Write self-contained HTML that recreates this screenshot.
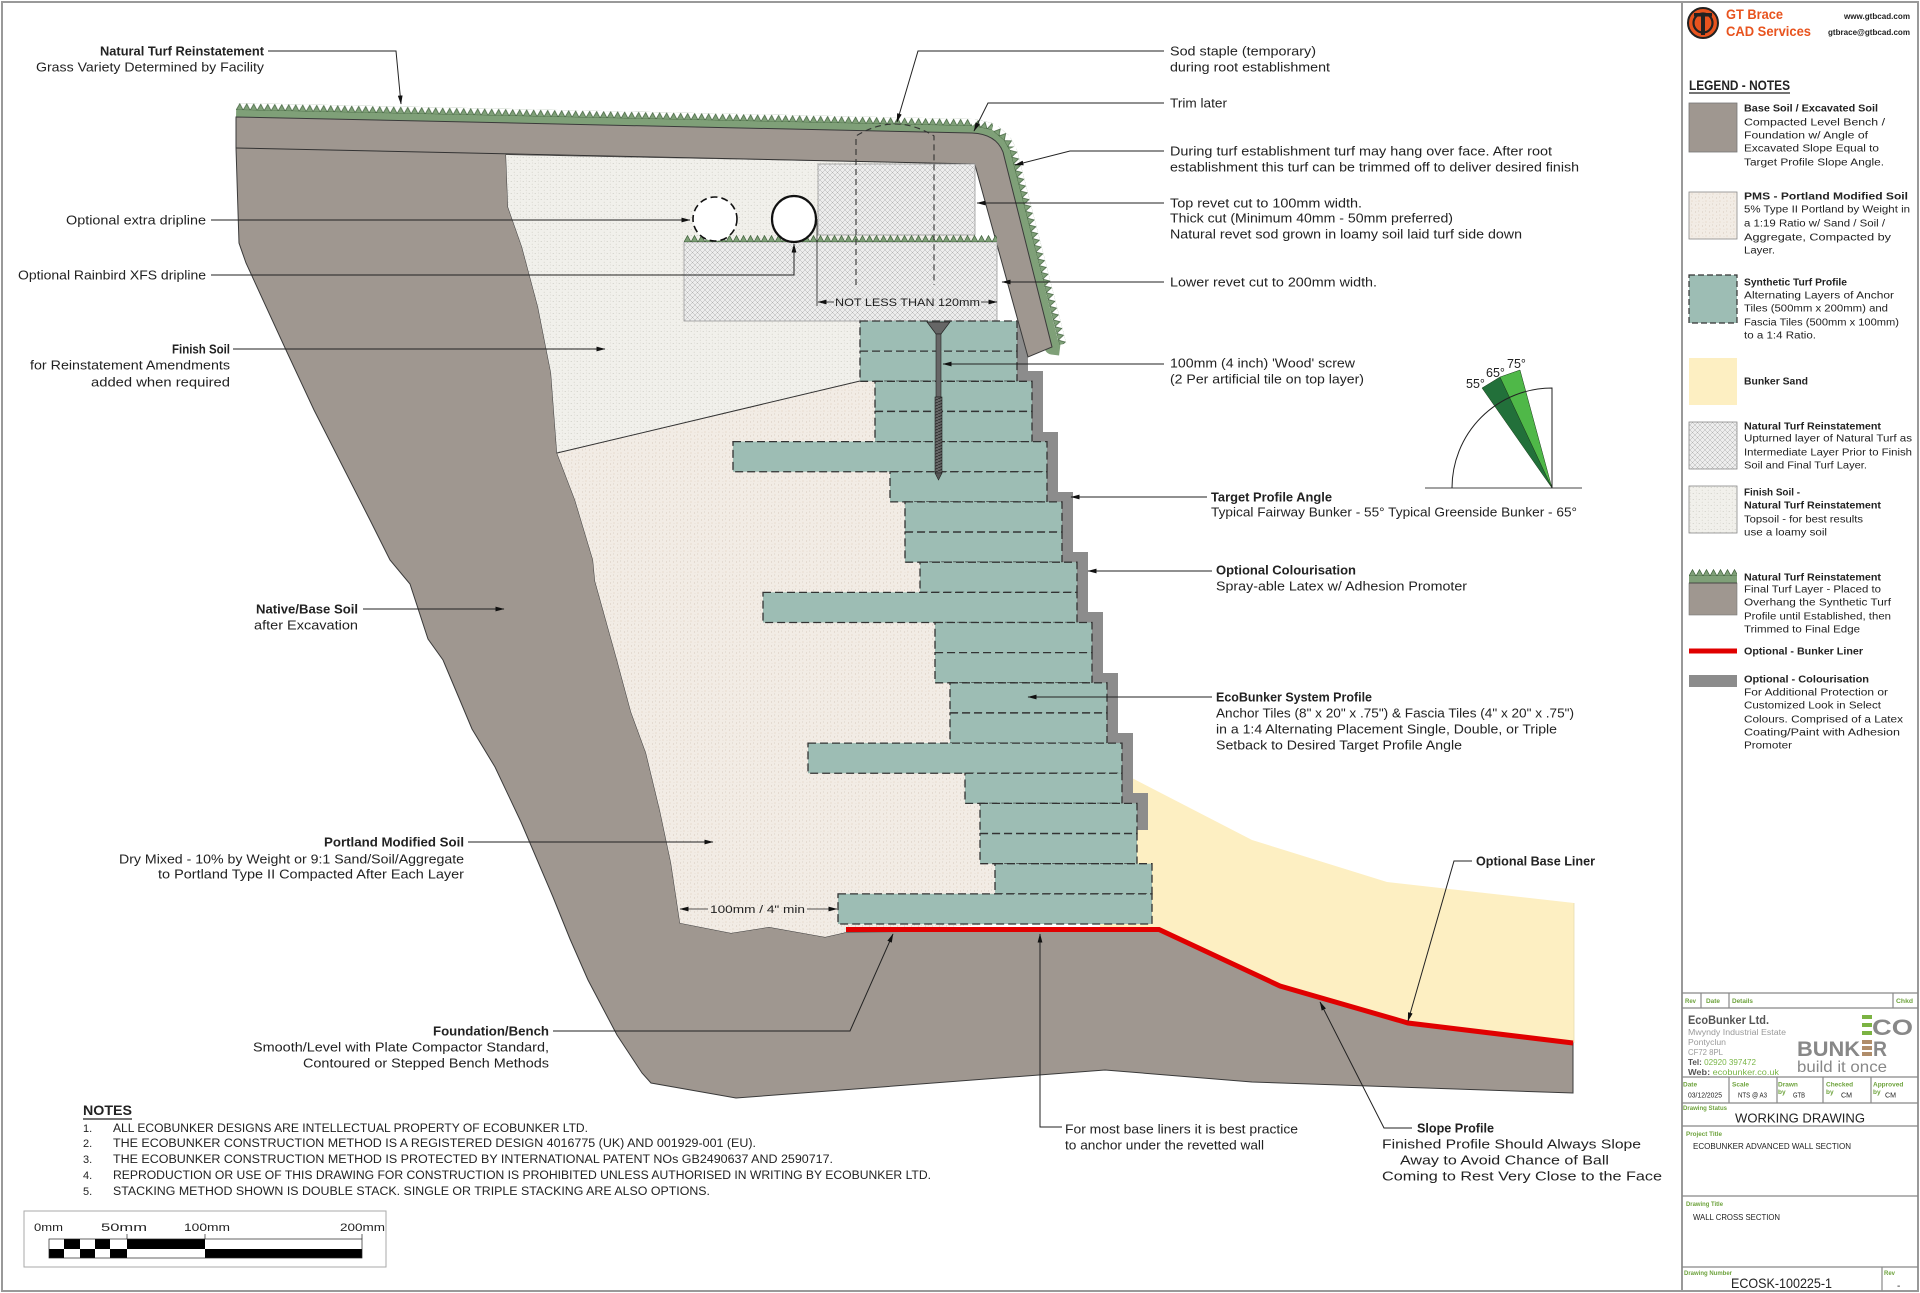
<!DOCTYPE html>
<html><head><meta charset="utf-8">
<style>
html,body{margin:0;padding:0;background:#fff;}
svg{display:block;}
text{font-family:"Liberation Sans",sans-serif;fill:#222;}
.b{font-weight:bold;}
.g{fill:#6ea33d;font-weight:bold;font-size:6.5px;}
.lg{font-size:10px;}
.lb{font-size:10px;font-weight:bold;}
.r{font-size:13px;fill:#222;}
.tb{font-size:8px;fill:#9a9a9a;}
.nt{font-size:10.5px;}
</style></head><body>
<svg width="1920" height="1293" viewBox="0 0 1920 1293" xmlns="http://www.w3.org/2000/svg">
<defs>
 <pattern id="teeth" width="7" height="7" patternUnits="userSpaceOnUse"><path d="M0,7 L3.5,0.6 L7,7 Z" fill="#7fa078" stroke="#3d5e39" stroke-width="0.7"/></pattern>
 <pattern id="xh" width="5" height="5" patternUnits="userSpaceOnUse"><rect width="5" height="5" fill="#ededed"/><path d="M0,0L5,5M5,0L0,5" stroke="#b3b3b3" stroke-width="0.5"/></pattern>
 <pattern id="pms" width="7" height="7" patternUnits="userSpaceOnUse"><rect width="7" height="7" fill="#f2ece5"/><circle cx="1.5" cy="2" r="0.6" fill="#d9cdc0"/><circle cx="5" cy="5" r="0.6" fill="#e2d2bf"/><circle cx="4.5" cy="1" r="0.45" fill="#cfc5ba"/><circle cx="2" cy="5.5" r="0.4" fill="#ddd3c8"/></pattern>
 <pattern id="fin" width="6" height="6" patternUnits="userSpaceOnUse"><rect width="6" height="6" fill="#f1f0eb"/><circle cx="1.2" cy="1.5" r="0.55" fill="#c9c8c0"/><circle cx="4.2" cy="4.3" r="0.55" fill="#d2d0c8"/><circle cx="4.5" cy="1" r="0.35" fill="#bdbcb4"/></pattern>
 <pattern id="thr" width="7" height="3" patternUnits="userSpaceOnUse"><rect width="7" height="3" fill="#666"/><path d="M0,3 L7,0" stroke="#222" stroke-width="0.8"/></pattern>
 <marker id="ar" markerWidth="9" markerHeight="6" refX="8.5" refY="3" orient="auto" markerUnits="userSpaceOnUse"><path d="M0,0.6 L9,3 L0,5.4 Z" fill="#111"/></marker>
</defs>

<!-- green underlay for turf -->
<path d="M236,117 L972,133 Q996,134 1003,152 L1052,347 L1060,348" fill="none" stroke="#7fa078" stroke-width="15" stroke-linejoin="round"/>
<g transform="translate(236,117) rotate(1.245)"><rect x="0" y="-14" width="736" height="7" fill="url(#teeth)"/></g>
<g transform="translate(972,133) rotate(12)"><rect x="0" y="-14" width="19" height="7" fill="url(#teeth)"/></g>
<g transform="translate(989,137) rotate(40)"><rect x="0" y="-14" width="14" height="7" fill="url(#teeth)"/></g>
<g transform="translate(998,144) rotate(62)"><rect x="0" y="-14" width="10" height="7" fill="url(#teeth)"/></g>
<g transform="translate(1003,152) rotate(75.7)"><rect x="0" y="-14" width="201" height="7" fill="url(#teeth)"/></g>

<!-- sand -->
<path d="M1100,777 L1130,777 L1252,840 L1387,882 L1574,903 L1574,1043 L1408,1023 L1280,986 L1159,929 L1100,929 Z" fill="#fdefc2"/>
<line x1="1574" y1="903" x2="1574" y2="1043" stroke="#e8dcb0" stroke-width="0.8"/>

<!-- colourisation -->
<path d="M1000,321 L1028,321 L1028,371 L1043,371 L1043,432 L1058,432 L1058,492 L1073,492 L1073,552 L1088,552 L1088,612 L1103,612 L1103,673 L1118,673 L1118,733 L1133,733 L1133,793 L1148,793 L1148,830 L1000,830 Z" fill="#8c8c8c"/>

<!-- main soil -->
<path d="M236,117 L972,133 Q996,134 1003,152 L1052,347 L1028,357 L975,165 L506,155 L508,207 L522,247 L538,307 L551,373 L557,453 L575,500 L593,560 L595,581 L617,660 L631,712 L646,753 L660,811 L671,863 L680,923 L731,933 L769,927 L825,937 L847,932 L1159,929 L1280,986 L1408,1023 L1573,1043 L1573,1093 L1252,1082 L1105,1070 L736,1098 L651,1083 L642,1073 L617,1035 L588,980 L570,939 L553,897 L521,822 L495,767 L472,729 L459,698 L443,660 L428,639 L410,584 L390,560 L370,520 L314,410 L286,350 L246,263 L239,243 L236,148 Z" fill="#9f9790" stroke="#3a3a3a" stroke-width="1"/>

<!-- finish soil & PMS -->
<path d="M506,155 L975,164 L975,242 L997,242 L997,321 L860,321 L860,381 L557,453 L551,373 L538,307 L522,247 L508,207 Z" fill="url(#fin)"/>
<path d="M557,453 L860,381 L1000,381 L1000,924 L847,932 L825,937 L769,927 L731,933 L680,923 L671,863 L660,811 L646,753 L631,712 L617,660 L595,581 L593,560 L575,500 Z" fill="url(#pms)"/>
<line x1="557" y1="453" x2="860" y2="381" stroke="#333" stroke-width="1"/>
<line x1="236" y1="148" x2="975" y2="164" stroke="#333" stroke-width="1"/>

<!-- revets -->
<rect x="818" y="164" width="157" height="71" fill="url(#xh)" stroke="#999" stroke-width="0.8"/>
<rect x="684" y="242" width="313" height="79" fill="url(#xh)" stroke="#999" stroke-width="0.8"/>
<g transform="translate(684,235)"><rect x="0" y="0" width="313" height="7" fill="url(#teeth)"/></g>

<!-- tiles -->
<g fill="#9dbdb4" stroke="#333" stroke-width="1.3" stroke-dasharray="8 4">
<rect x="860" y="321" width="157" height="30.15"/>
<rect x="860" y="351.15" width="157" height="30.15"/>
<rect x="875" y="381.3" width="157" height="30.15"/>
<rect x="875" y="411.45" width="157" height="30.15"/>
<rect x="733" y="441.6" width="314" height="30.15"/>
<rect x="890" y="471.75" width="157" height="30.15"/>
<rect x="905" y="501.9" width="157" height="30.15"/>
<rect x="905" y="532.05" width="157" height="30.15"/>
<rect x="920" y="562.2" width="157" height="30.15"/>
<rect x="763" y="592.35" width="314" height="30.15"/>
<rect x="935" y="622.5" width="157" height="30.15"/>
<rect x="935" y="652.65" width="157" height="30.15"/>
<rect x="950" y="682.8" width="157" height="30.15"/>
<rect x="950" y="712.95" width="157" height="30.15"/>
<rect x="808" y="743.1" width="314" height="30.15"/>
<rect x="965" y="773.25" width="157" height="30.15"/>
<rect x="980" y="803.4" width="157" height="30.15"/>
<rect x="980" y="833.55" width="157" height="30.15"/>
<rect x="995" y="863.7" width="157" height="30.15"/>
<rect x="838" y="893.85" width="314" height="30.15"/>
</g>

<!-- liner -->
<polyline points="846,929.5 1159,929.5 1280,986 1408,1023 1573,1043" fill="none" stroke="#e00000" stroke-width="5"/>

<!-- screw -->
<polygon points="927,322 950,322 941,334 936,334" fill="#666" stroke="#222" stroke-width="0.7"/>
<rect x="936" y="334" width="5" height="63" fill="#666" stroke="#222" stroke-width="0.6"/>
<rect x="935" y="397" width="7" height="76" fill="url(#thr)" stroke="#222" stroke-width="0.6"/>
<polygon points="935,473 942,473 938.5,480" fill="#555" stroke="#222" stroke-width="0.6"/>

<!-- drip lines -->
<circle cx="715" cy="219" r="22" fill="#fff" stroke="#111" stroke-width="1.6" stroke-dasharray="7 4"/>
<ellipse cx="794" cy="219" rx="22" ry="23" fill="#fff" stroke="#111" stroke-width="2.2"/>

<!-- sod staple -->
<g fill="none" stroke="#333" stroke-width="1.1" stroke-dasharray="6 4">
<path d="M856,285 L856,136 Q895,112 934,136 L934,285"/>
</g>

<!-- dimensions -->
<line x1="817" y1="219" x2="817" y2="306" stroke="#222" stroke-width="0.8"/>
<line x1="834" y1="302" x2="818" y2="302" stroke="#222" stroke-width="0.8" marker-end="url(#ar)"/>
<line x1="981" y1="302" x2="997" y2="302" stroke="#222" stroke-width="0.8" marker-end="url(#ar)"/>
<text x="835" y="306" font-size="11" textLength="145" lengthAdjust="spacingAndGlyphs">NOT LESS THAN 120mm</text>
<line x1="708" y1="909" x2="680" y2="909" stroke="#222" stroke-width="0.8" marker-end="url(#ar)"/>
<line x1="807" y1="909" x2="837" y2="909" stroke="#222" stroke-width="0.8" marker-end="url(#ar)"/>
<text x="710" y="913" font-size="11" textLength="95" lengthAdjust="spacingAndGlyphs">100mm / 4" min</text>

<!-- leaders -->
<g fill="none" stroke="#222" stroke-width="1">
<polyline points="268,51 396,51 401,104" marker-end="url(#ar)"/>
<polyline points="211,220 690,220" marker-end="url(#ar)"/>
<polyline points="211,275 794,275 794,244" marker-end="url(#ar)"/>
<polyline points="233,349 605,349" marker-end="url(#ar)"/>
<polyline points="363,609 504,609" marker-end="url(#ar)"/>
<polyline points="468,842 713,842" marker-end="url(#ar)"/>
<polyline points="553,1031 850,1031 893,934" marker-end="url(#ar)"/>
<polyline points="1164,51 918,51 897,122" marker-end="url(#ar)"/>
<polyline points="1164,103 988,103 974,131" marker-end="url(#ar)"/>
<polyline points="1164,151 1070,151 1015,165" marker-end="url(#ar)"/>
<polyline points="1164,203 977,203" marker-end="url(#ar)"/>
<polyline points="1164,282 1002,282" marker-end="url(#ar)"/>
<polyline points="1164,364 943,364" marker-end="url(#ar)"/>
<polyline points="1207,497 1071,497" marker-end="url(#ar)"/>
<polyline points="1212,571 1088,571" marker-end="url(#ar)"/>
<polyline points="1212,697 1028,697" marker-end="url(#ar)"/>
<polyline points="1472,861 1454,861 1408,1021" marker-end="url(#ar)"/>
<polyline points="1412,1128 1384,1128 1320,1002" marker-end="url(#ar)"/>
<polyline points="1062,1127 1040,1127 1040,934" marker-end="url(#ar)"/>
</g>

<!-- left labels -->
<text x="100" y="55.5" class="b" font-size="13" textLength="164" lengthAdjust="spacingAndGlyphs">Natural Turf Reinstatement</text>
<text x="36" y="71.5" class="r" textLength="228" lengthAdjust="spacingAndGlyphs">Grass Variety Determined by Facility</text>
<text x="66" y="224.5" class="r" textLength="140" lengthAdjust="spacingAndGlyphs">Optional extra dripline</text>
<text x="18" y="279.5" class="r" textLength="188" lengthAdjust="spacingAndGlyphs">Optional  Rainbird XFS dripline</text>
<text x="172" y="353.5" class="b" font-size="13" textLength="58" lengthAdjust="spacingAndGlyphs">Finish Soil</text>
<text x="30" y="369.5" class="r" textLength="200" lengthAdjust="spacingAndGlyphs">for Reinstatement Amendments</text>
<text x="91" y="386.5" class="r" textLength="139" lengthAdjust="spacingAndGlyphs">added when required</text>
<text x="256" y="613.5" class="b" font-size="13" textLength="102" lengthAdjust="spacingAndGlyphs">Native/Base Soil</text>
<text x="254" y="629.5" class="r" textLength="104" lengthAdjust="spacingAndGlyphs">after Excavation</text>
<text x="324" y="846.5" class="b" font-size="13" textLength="140" lengthAdjust="spacingAndGlyphs">Portland  Modified Soil</text>
<text x="119" y="863.5" class="r" textLength="345" lengthAdjust="spacingAndGlyphs">Dry Mixed - 10% by Weight or 9:1 Sand/Soil/Aggregate</text>
<text x="158" y="878.5" class="r" textLength="306" lengthAdjust="spacingAndGlyphs">to Portland Type II Compacted After Each Layer</text>
<text x="433" y="1035.5" class="b" font-size="13" textLength="116" lengthAdjust="spacingAndGlyphs">Foundation/Bench</text>
<text x="253" y="1051.5" class="r" textLength="296" lengthAdjust="spacingAndGlyphs">Smooth/Level with Plate Compactor Standard,</text>
<text x="303" y="1067.5" class="r" textLength="246" lengthAdjust="spacingAndGlyphs">Contoured or Stepped Bench Methods</text>

<!-- right labels -->
<text x="1170" y="55.5" class="r" textLength="146" lengthAdjust="spacingAndGlyphs">Sod staple (temporary)</text>
<text x="1170" y="71.5" class="r" textLength="160" lengthAdjust="spacingAndGlyphs">during root establishment</text>
<text x="1170" y="107.5" class="r" textLength="57" lengthAdjust="spacingAndGlyphs">Trim later</text>
<text x="1170" y="155.5" class="r" textLength="382" lengthAdjust="spacingAndGlyphs">During turf establishment turf may hang over face. After root</text>
<text x="1170" y="171.5" class="r" textLength="409" lengthAdjust="spacingAndGlyphs">establishment this turf can be trimmed off to deliver desired finish</text>
<text x="1170" y="207.5" class="r" textLength="192" lengthAdjust="spacingAndGlyphs">Top revet cut to 100mm width.</text>
<text x="1170" y="222.5" class="r" textLength="283" lengthAdjust="spacingAndGlyphs">Thick cut (Minimum 40mm - 50mm preferred)</text>
<text x="1170" y="238.5" class="r" textLength="352" lengthAdjust="spacingAndGlyphs">Natural revet sod grown in loamy soil laid turf side down</text>
<text x="1170" y="286.5" class="r" textLength="207" lengthAdjust="spacingAndGlyphs">Lower revet cut to 200mm width.</text>
<text x="1170" y="367.5" class="r" textLength="185" lengthAdjust="spacingAndGlyphs">100mm (4 inch) 'Wood' screw</text>
<text x="1170" y="383.5" class="r" textLength="194" lengthAdjust="spacingAndGlyphs">(2 Per artificial tile on top layer)</text>
<text x="1211" y="501.5" class="b" font-size="13" textLength="121" lengthAdjust="spacingAndGlyphs">Target Profile Angle</text>
<text x="1211" y="516.5" class="r" textLength="366" lengthAdjust="spacingAndGlyphs">Typical Fairway Bunker - 55° Typical Greenside Bunker - 65°</text>
<text x="1216" y="574.5" class="b" font-size="13" textLength="140" lengthAdjust="spacingAndGlyphs">Optional Colourisation</text>
<text x="1216" y="590.5" class="r" textLength="251" lengthAdjust="spacingAndGlyphs">Spray-able Latex w/ Adhesion Promoter</text>
<text x="1216" y="701.5" class="b" font-size="13" textLength="156" lengthAdjust="spacingAndGlyphs">EcoBunker System Profile</text>
<text x="1216" y="717.5" class="r" textLength="358" lengthAdjust="spacingAndGlyphs">Anchor Tiles (8" x 20" x .75") &amp; Fascia Tiles (4" x 20" x .75")</text>
<text x="1216" y="733.5" class="r" textLength="341" lengthAdjust="spacingAndGlyphs">in a 1:4 Alternating Placement Single, Double, or Triple</text>
<text x="1216" y="749.5" class="r" textLength="246" lengthAdjust="spacingAndGlyphs">Setback to Desired Target Profile Angle</text>
<text x="1476" y="865.5" class="b" font-size="13" textLength="119" lengthAdjust="spacingAndGlyphs">Optional Base Liner</text>
<text x="1065" y="1133.5" class="r" textLength="233" lengthAdjust="spacingAndGlyphs">For most base liners it is best practice</text>
<text x="1065" y="1149.5" class="r" textLength="199" lengthAdjust="spacingAndGlyphs">to anchor under the revetted wall</text>
<text x="1417" y="1132.5" class="b" font-size="13" textLength="77" lengthAdjust="spacingAndGlyphs">Slope Profile</text>
<text x="1382" y="1148.5" class="r" textLength="259" lengthAdjust="spacingAndGlyphs">Finished Profile Should Always Slope</text>
<text x="1400" y="1164.5" class="r" textLength="209" lengthAdjust="spacingAndGlyphs">Away to Avoid Chance of Ball</text>
<text x="1382" y="1180.5" class="r" textLength="280" lengthAdjust="spacingAndGlyphs">Coming to Rest Very Close to the Face</text>

<!-- protractor -->
<polygon points="1552,488 1482,388 1500,377" fill="#22703a" stroke="#1a3a1a" stroke-width="0.5"/>
<polygon points="1552,488 1500,377 1520,370" fill="#4fb848" stroke="#1a3a1a" stroke-width="0.5"/>
<line x1="1425" y1="488" x2="1582" y2="488" stroke="#444" stroke-width="1"/>
<path d="M1452,488 A100,100 0 0 1 1552,388 L1552,488" fill="none" stroke="#222" stroke-width="1"/>
<text x="1466" y="388" font-size="12.5" fill="#222">55°</text>
<text x="1486" y="377" font-size="12.5" fill="#222">65°</text>
<text x="1507" y="368" font-size="12.5" fill="#222">75°</text>

<!-- notes -->
<text x="83" y="1115" class="b" font-size="14" textLength="49" lengthAdjust="spacingAndGlyphs">NOTES</text>
<line x1="83" y1="1119" x2="132" y2="1119" stroke="#222" stroke-width="1.2"/>
<g class="nt">
<text x="83" y="1132" font-size="11">1.</text><text x="113" y="1132" font-size="11.5" textLength="475" lengthAdjust="spacingAndGlyphs">ALL ECOBUNKER DESIGNS ARE INTELLECTUAL PROPERTY OF ECOBUNKER LTD.</text>
<text x="83" y="1147" font-size="11">2.</text><text x="113" y="1147" font-size="11.5" textLength="643" lengthAdjust="spacingAndGlyphs">THE ECOBUNKER CONSTRUCTION METHOD IS A REGISTERED DESIGN 4016775 (UK) AND 001929-001 (EU).</text>
<text x="83" y="1163" font-size="11">3.</text><text x="113" y="1163" font-size="11.5" textLength="720" lengthAdjust="spacingAndGlyphs">THE ECOBUNKER CONSTRUCTION METHOD IS PROTECTED BY INTERNATIONAL PATENT NOs GB2490637 AND 2590717.</text>
<text x="83" y="1179" font-size="11">4.</text><text x="113" y="1179" font-size="11.5" textLength="818" lengthAdjust="spacingAndGlyphs">REPRODUCTION OR USE OF THIS DRAWING FOR CONSTRUCTION IS PROHIBITED UNLESS AUTHORISED IN WRITING BY ECOBUNKER LTD.</text>
<text x="83" y="1195" font-size="11">5.</text><text x="113" y="1195" font-size="11.5" textLength="597" lengthAdjust="spacingAndGlyphs">STACKING METHOD SHOWN IS DOUBLE STACK. SINGLE OR TRIPLE STACKING ARE ALSO OPTIONS.</text>
</g>

<!-- scale bar -->
<rect x="24" y="1211" width="362" height="56" fill="none" stroke="#aaa" stroke-width="1"/>
<text x="34" y="1231" font-size="11" textLength="29" lengthAdjust="spacingAndGlyphs">0mm</text>
<text x="101" y="1231" font-size="11" textLength="46" lengthAdjust="spacingAndGlyphs">50mm</text>
<text x="184" y="1231" font-size="11" textLength="46" lengthAdjust="spacingAndGlyphs">100mm</text>
<text x="340" y="1231" font-size="11" textLength="45" lengthAdjust="spacingAndGlyphs">200mm</text>
<g fill="#000">
<rect x="64" y="1239" width="16" height="10"/><rect x="95" y="1239" width="15" height="10"/><rect x="127" y="1239" width="78" height="10"/>
<rect x="49" y="1249" width="15" height="9"/><rect x="80" y="1249" width="15" height="9"/><rect x="110" y="1249" width="17" height="9"/><rect x="205" y="1249" width="157" height="9"/>
</g>
<rect x="49" y="1239" width="313" height="19" fill="none" stroke="#222" stroke-width="0.7"/>
<g stroke="#222" stroke-width="0.7"><line x1="127" y1="1234" x2="127" y2="1239"/><line x1="205" y1="1234" x2="205" y2="1239"/><line x1="362" y1="1234" x2="362" y2="1239"/></g>

<!-- frame -->
<rect x="2" y="2" width="1916" height="1289" fill="none" stroke="#999" stroke-width="2"/>
<line x1="1682" y1="2" x2="1682" y2="1291" stroke="#999" stroke-width="2"/>

<!-- logo -->
<circle cx="1703" cy="23" r="15" fill="#e8531e" stroke="#222" stroke-width="2"/>
<circle cx="1703" cy="23" r="9.5" fill="none" stroke="#222" stroke-width="2.2"/>
<rect x="1694" y="13" width="18" height="3.5" fill="#222"/>
<rect x="1701" y="13" width="4" height="22" fill="#222"/>
<text x="1726" y="19" class="b" font-size="14" style="fill:#e8531e" textLength="57" lengthAdjust="spacingAndGlyphs">GT Brace</text>
<text x="1726" y="36" class="b" font-size="14" style="fill:#e8531e" textLength="85" lengthAdjust="spacingAndGlyphs">CAD Services</text>
<text x="1844" y="19" class="b" font-size="8.5" textLength="66" lengthAdjust="spacingAndGlyphs">www.gtbcad.com</text>
<text x="1828" y="35" class="b" font-size="8.5" textLength="82" lengthAdjust="spacingAndGlyphs">gtbrace@gtbcad.com</text>

<!-- legend -->
<text x="1689" y="90" class="b" font-size="13.5" textLength="101" lengthAdjust="spacingAndGlyphs">LEGEND - NOTES</text>
<line x1="1689" y1="93" x2="1790" y2="93" stroke="#222" stroke-width="1.2"/>

<rect x="1689" y="103" width="48" height="49" fill="#9f9790" stroke="#777" stroke-width="0.8"/>
<text x="1744" y="111.6" class="lb" textLength="134" lengthAdjust="spacingAndGlyphs">Base Soil / Excavated Soil</text>
<text x="1744" y="125.6" class="lg" textLength="141" lengthAdjust="spacingAndGlyphs">Compacted Level Bench /</text>
<text x="1744" y="138.6" class="lg" textLength="124" lengthAdjust="spacingAndGlyphs">Foundation w/ Angle of</text>
<text x="1744" y="151.6" class="lg" textLength="135" lengthAdjust="spacingAndGlyphs">Excavated Slope Equal to</text>
<text x="1744" y="165.6" class="lg" textLength="140" lengthAdjust="spacingAndGlyphs">Target Profile Slope Angle.</text>

<rect x="1689" y="192" width="48" height="47" fill="url(#pms)" stroke="#888" stroke-width="0.8"/>
<text x="1744" y="199.6" class="lb" textLength="164" lengthAdjust="spacingAndGlyphs">PMS - Portland Modified Soil</text>
<text x="1744" y="212.6" class="lg" textLength="166" lengthAdjust="spacingAndGlyphs">5% Type II Portland by Weight in</text>
<text x="1744" y="226.6" class="lg" textLength="141" lengthAdjust="spacingAndGlyphs">a 1:19 Ratio w/ Sand / Soil /</text>
<text x="1744" y="240.6" class="lg" textLength="147" lengthAdjust="spacingAndGlyphs">Aggregate, Compacted by</text>
<text x="1744" y="253.6" class="lg" textLength="31" lengthAdjust="spacingAndGlyphs">Layer.</text>

<rect x="1689" y="275" width="48" height="48" fill="#9dbdb4" stroke="#333" stroke-width="1.2" stroke-dasharray="6 3"/>
<text x="1744" y="285.6" class="lb" textLength="103" lengthAdjust="spacingAndGlyphs">Synthetic Turf Profile</text>
<text x="1744" y="298.6" class="lg" textLength="150" lengthAdjust="spacingAndGlyphs">Alternating Layers of Anchor</text>
<text x="1744" y="311.6" class="lg" textLength="144" lengthAdjust="spacingAndGlyphs">Tiles (500mm x 200mm) and</text>
<text x="1744" y="325.6" class="lg" textLength="155" lengthAdjust="spacingAndGlyphs">Fascia Tiles (500mm x 100mm)</text>
<text x="1744" y="338.6" class="lg" textLength="72" lengthAdjust="spacingAndGlyphs">to a 1:4 Ratio.</text>

<rect x="1689" y="358" width="48" height="47" fill="#fdefc2"/>
<text x="1744" y="384.6" class="lb" textLength="64" lengthAdjust="spacingAndGlyphs">Bunker Sand</text>

<rect x="1689" y="422" width="48" height="47" fill="url(#xh)" stroke="#888" stroke-width="0.8"/>
<text x="1744" y="429.6" class="lb" textLength="137" lengthAdjust="spacingAndGlyphs">Natural Turf Reinstatement</text>
<text x="1744" y="441.6" class="lg" textLength="168" lengthAdjust="spacingAndGlyphs">Upturned layer of Natural Turf as</text>
<text x="1744" y="455.6" class="lg" textLength="168" lengthAdjust="spacingAndGlyphs">Intermediate Layer Prior to Finish</text>
<text x="1744" y="468.6" class="lg" textLength="123" lengthAdjust="spacingAndGlyphs">Soil and Final Turf Layer.</text>

<rect x="1689" y="486" width="48" height="47" fill="url(#fin)" stroke="#888" stroke-width="0.8"/>
<text x="1744" y="495.6" class="lb" textLength="56" lengthAdjust="spacingAndGlyphs">Finish Soil -</text>
<text x="1744" y="508.6" class="lb" textLength="137" lengthAdjust="spacingAndGlyphs">Natural Turf Reinstatement</text>
<text x="1744" y="522.6" class="lg" textLength="119" lengthAdjust="spacingAndGlyphs">Topsoil - for best results</text>
<text x="1744" y="535.6" class="lg" textLength="83" lengthAdjust="spacingAndGlyphs">use a loamy soil</text>

<g transform="translate(1689,569)"><rect x="0" y="0" width="48" height="7" fill="url(#teeth)"/></g>
<rect x="1689" y="576" width="48" height="7" fill="#7fa078"/>
<rect x="1689" y="583" width="48" height="32" fill="#9f9790" stroke="#777" stroke-width="0.6"/>
<line x1="1689" y1="583" x2="1737" y2="583" stroke="#333" stroke-width="0.8"/>
<text x="1744" y="580.6" class="lb" textLength="137" lengthAdjust="spacingAndGlyphs">Natural Turf Reinstatement</text>
<text x="1744" y="592.6" class="lg" textLength="137" lengthAdjust="spacingAndGlyphs">Final Turf Layer - Placed to</text>
<text x="1744" y="605.6" class="lg" textLength="147" lengthAdjust="spacingAndGlyphs">Overhang the Synthetic Turf</text>
<text x="1744" y="619.6" class="lg" textLength="147" lengthAdjust="spacingAndGlyphs">Profile until Established, then</text>
<text x="1744" y="632.6" class="lg" textLength="116" lengthAdjust="spacingAndGlyphs">Trimmed to Final Edge</text>

<rect x="1689" y="648.5" width="48" height="5" fill="#e00000"/>
<text x="1744" y="654.6" class="lb" textLength="119" lengthAdjust="spacingAndGlyphs">Optional - Bunker Liner</text>

<rect x="1689" y="675" width="48" height="12" fill="#8c8c8c"/>
<text x="1744" y="682.6" class="lb" textLength="125" lengthAdjust="spacingAndGlyphs">Optional - Colourisation</text>
<text x="1744" y="695.6" class="lg" textLength="144" lengthAdjust="spacingAndGlyphs">For Additional Protection or</text>
<text x="1744" y="708.6" class="lg" textLength="137" lengthAdjust="spacingAndGlyphs">Customized Look in Select</text>
<text x="1744" y="722.6" class="lg" textLength="159" lengthAdjust="spacingAndGlyphs">Colours. Comprised of a Latex</text>
<text x="1744" y="735.6" class="lg" textLength="156" lengthAdjust="spacingAndGlyphs">Coating/Paint with Adhesion</text>
<text x="1744" y="748.6" class="lg" textLength="48" lengthAdjust="spacingAndGlyphs">Promoter</text>

<!-- title block -->
<g stroke="#888" stroke-width="1.2">
<line x1="1682" y1="993" x2="1918" y2="993"/>
<line x1="1682" y1="1008" x2="1918" y2="1008"/>
<line x1="1682" y1="1077" x2="1918" y2="1077"/>
<line x1="1682" y1="1103" x2="1918" y2="1103"/>
<line x1="1682" y1="1126" x2="1918" y2="1126"/>
<line x1="1682" y1="1196" x2="1918" y2="1196"/>
<line x1="1682" y1="1267" x2="1918" y2="1267"/>
<line x1="1701" y1="993" x2="1701" y2="1008"/>
<line x1="1729" y1="993" x2="1729" y2="1008"/>
<line x1="1893" y1="993" x2="1893" y2="1008"/>
<line x1="1729" y1="1077" x2="1729" y2="1103"/>
<line x1="1777" y1="1077" x2="1777" y2="1103"/>
<line x1="1823" y1="1077" x2="1823" y2="1103"/>
<line x1="1871" y1="1077" x2="1871" y2="1103"/>
<line x1="1882" y1="1267" x2="1882" y2="1291"/>
</g>
<text x="1685" y="1003" class="g" textLength="11" lengthAdjust="spacingAndGlyphs">Rev</text>
<text x="1706" y="1003" class="g" textLength="14" lengthAdjust="spacingAndGlyphs">Date</text>
<text x="1732" y="1003" class="g" textLength="21" lengthAdjust="spacingAndGlyphs">Details</text>
<text x="1896" y="1003" class="g" textLength="17" lengthAdjust="spacingAndGlyphs">Chkd</text>

<text x="1688" y="1024" font-size="11.5" style="fill:#555;font-weight:bold" textLength="81" lengthAdjust="spacingAndGlyphs">EcoBunker Ltd.</text>
<text x="1688" y="1035" class="tb" textLength="98" lengthAdjust="spacingAndGlyphs">Mwyndy Industrial Estate</text>
<text x="1688" y="1045" class="tb" textLength="38" lengthAdjust="spacingAndGlyphs">Pontyclun</text>
<text x="1688" y="1055" class="tb" textLength="35" lengthAdjust="spacingAndGlyphs">CF72 8PL</text>
<text x="1688" y="1065" font-size="8" textLength="68" lengthAdjust="spacingAndGlyphs"><tspan style="fill:#555;font-weight:bold">Tel: </tspan><tspan style="fill:#7ab648">02920 397472</tspan></text>
<text x="1688" y="1075" font-size="8" textLength="91" lengthAdjust="spacingAndGlyphs"><tspan style="fill:#555;font-weight:bold">Web: </tspan><tspan style="fill:#7ab648">ecobunker.co.uk</tspan></text>

<g fill="#7bb342"><rect x="1862" y="1015" width="10" height="4"/><rect x="1862" y="1023" width="10" height="4"/><rect x="1862" y="1031" width="10" height="4"/></g>
<text x="1872" y="1035" font-size="22" style="fill:#888;font-weight:bold" textLength="41" lengthAdjust="spacingAndGlyphs">CO</text>
<text x="1797" y="1056" font-size="21" style="fill:#888;font-weight:bold" textLength="63" lengthAdjust="spacingAndGlyphs">BUNK</text>
<g fill="#b08d6a"><rect x="1862" y="1040" width="10" height="4"/><rect x="1862" y="1046" width="10" height="4"/><rect x="1862" y="1052" width="10" height="4"/></g>
<text x="1873" y="1056" font-size="21" style="fill:#888;font-weight:bold" textLength="14" lengthAdjust="spacingAndGlyphs">R</text>
<text x="1797" y="1072" font-size="16" style="fill:#888" textLength="90" lengthAdjust="spacingAndGlyphs">build it once</text>

<text x="1683" y="1086.5" class="g">Date</text>
<text x="1732" y="1086.5" class="g">Scale</text>
<text x="1778" y="1086.5" class="g">Drawn</text>
<text x="1826" y="1086.5" class="g">Checked</text>
<text x="1873" y="1086.5" class="g">Approved</text>
<text x="1778" y="1094" class="g">by</text>
<text x="1826" y="1094" class="g">by</text>
<text x="1873" y="1094" class="g">by</text>
<text x="1688" y="1097.5" font-size="7" textLength="34" lengthAdjust="spacingAndGlyphs">03/12/2025</text>
<text x="1738" y="1097.5" font-size="7" textLength="29" lengthAdjust="spacingAndGlyphs">NTS @ A3</text>
<text x="1793" y="1097.5" font-size="7" textLength="12" lengthAdjust="spacingAndGlyphs">GTB</text>
<text x="1841" y="1097.5" font-size="7" textLength="11" lengthAdjust="spacingAndGlyphs">CM</text>
<text x="1885" y="1097.5" font-size="7" textLength="11" lengthAdjust="spacingAndGlyphs">CM</text>

<text x="1683" y="1110" class="g" textLength="44" lengthAdjust="spacingAndGlyphs">Drawing Status</text>
<text x="1735" y="1122.5" font-size="13" textLength="130" lengthAdjust="spacingAndGlyphs">WORKING DRAWING</text>
<text x="1686" y="1136" class="g" textLength="36" lengthAdjust="spacingAndGlyphs">Project Title</text>
<text x="1693" y="1149" font-size="8.5" textLength="158" lengthAdjust="spacingAndGlyphs">ECOBUNKER ADVANCED WALL SECTION</text>
<text x="1686" y="1206" class="g" textLength="37" lengthAdjust="spacingAndGlyphs">Drawing Title</text>
<text x="1693" y="1220" font-size="8.5" textLength="87" lengthAdjust="spacingAndGlyphs">WALL CROSS SECTION</text>
<text x="1684" y="1275" class="g" textLength="48" lengthAdjust="spacingAndGlyphs">Drawing Number</text>
<text x="1731" y="1288" font-size="14" textLength="101" lengthAdjust="spacingAndGlyphs">ECOSK-100225-1</text>
<text x="1884" y="1275" class="g" textLength="11" lengthAdjust="spacingAndGlyphs">Rev</text>
<text x="1897" y="1289" font-size="10">-</text>
</svg>
</body></html>
